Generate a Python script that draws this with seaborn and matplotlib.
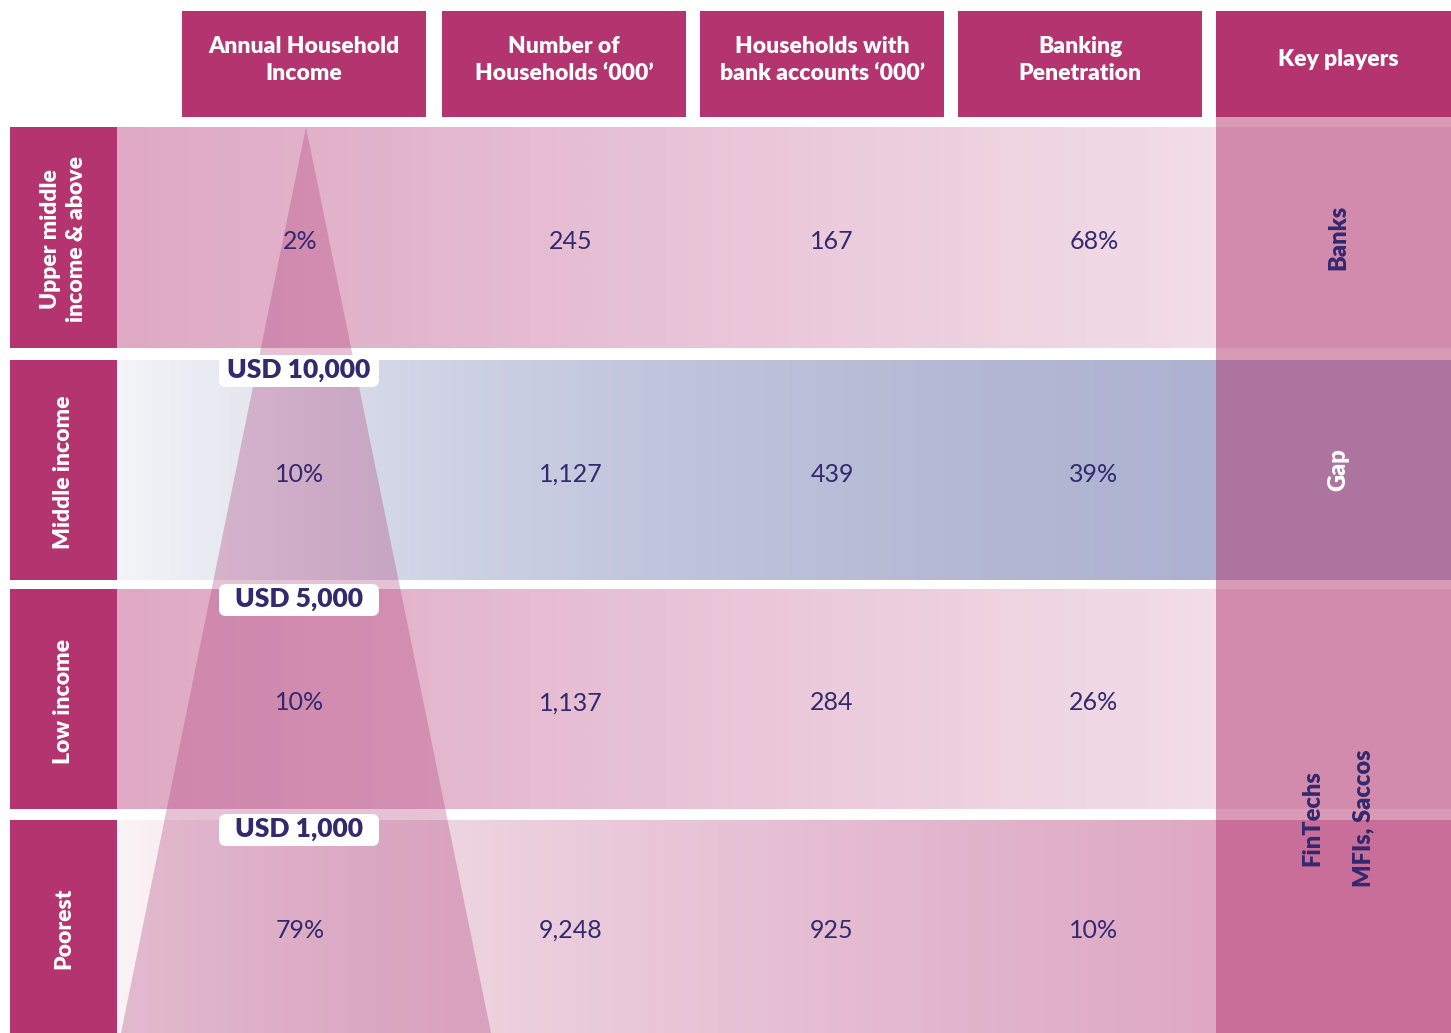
import numpy as np
import matplotlib.pyplot as plt
from matplotlib.patches import Rectangle, Polygon, FancyBboxPatch
import seaborn as sns

# Table content
headers = ["Annual Household\nIncome", "Number of\nHouseholds \u2018000\u2019",
           "Households with\nbank accounts \u2018000\u2019", "Banking\nPenetration", "Key players"]
segments = ["Upper middle\nincome & above", "Middle income", "Low income", "Poorest"]
income_share = [2, 10, 10, 79]          # % of households
households = [245, 1127, 1137, 9248]    # '000
banked = [167, 439, 284, 925]           # '000
penetration = [68, 39, 26, 10]          # %
thresholds = ["USD 10,000", "USD 5,000", "USD 1,000"]
key_players = ["Banks", "Gap", "FinTechs\nMFIs, Saccos"]

# Layout in pixel units (figure is 1451 x 1033)
W, H = 1451, 1033
row_top = [127, 360, 589, 820]
row_bot = [348, 580, 809, 1033]
head_x = [(182, 426), (442, 686), (700, 944), (958, 1202), (1216, 1460)]
head_y = (11, 117)
label_x = (10, 117)
band_x = (117, 1216)
key_x = (1216, 1460)
col_cx = [300, 571, 832, 1094]

MAGENTA = "#b3346e"
NAVY = "#33296f"
BOLD = "heavy"

band_colors = [
    ["#dfa9c5", "#e3b5cd", "#e8c3d7", "#edd0df", "#f2dde8"],
    ["#f4f4f8", "#d3d6e7", "#c0c4dc", "#b5b9d5", "#adb2d0"],
    ["#dfa9c5", "#e3b5cd", "#e8c3d7", "#edd0df", "#f2dde8"],
    ["#faf3f6", "#efd7e3", "#e8c6d8", "#e3b6ce", "#dea8c4"],
]
key_colors = ["#d38bad", "#ae74a0", "#d38bad", "#c86e99"]

sns.set_theme(style="white")
plt.rcParams["font.family"] = ["Lato", "DejaVu Sans"]

fig = plt.figure(figsize=(14.51, 10.33), dpi=100)
ax = fig.add_axes([0, 0, 1, 1])

# header boxes
for (x0, x1), text in zip(head_x, headers):
    ax.add_patch(Rectangle((x0, head_y[0]), x1 - x0, head_y[1] - head_y[0],
                           color=MAGENTA, lw=0, zorder=2))
    ax.text((x0 + x1) / 2, (head_y[0] + head_y[1]) / 2 - 4, text, color="white",
            fontsize=16.5, fontweight=BOLD, ha="center", va="center",
            linespacing=1.3, zorder=3)

# key players column background
ax.add_patch(Rectangle((key_x[0], head_y[1]), key_x[1] - key_x[0], H - head_y[1],
                       color="#d89ab5", lw=0, zorder=1))

grad = np.linspace(0, 1, 256)[None, :]
for i, name in enumerate(segments):
    yt, yb = row_top[i], row_bot[i]
    cmap = sns.blend_palette(band_colors[i], as_cmap=True)
    ax.imshow(grad, cmap=cmap, extent=(band_x[0], band_x[1], yb, yt),
              aspect="auto", interpolation="bicubic", zorder=1)
    ax.add_patch(Rectangle((label_x[0], yt), label_x[1] - label_x[0], yb - yt,
                           color=MAGENTA, lw=0, zorder=2))
    ax.add_patch(Rectangle((key_x[0], yt), key_x[1] - key_x[0], yb - yt,
                           color=key_colors[i], lw=0, zorder=2))
    ax.text((label_x[0] + label_x[1]) / 2, (yt + yb) / 2 + 2, name, rotation=90,
            color="white", fontsize=16.5, fontweight=BOLD, ha="center",
            va="center", linespacing=1.3, zorder=4)
    yc = (yt + yb) / 2 + 4
    cells = [f"{income_share[i]}%", f"{households[i]:,}", f"{banked[i]:,}",
             f"{penetration[i]}%"]
    for x, s in zip(col_cx, cells):
        ax.text(x, yc, s, color=NAVY, fontsize=18, ha="center", va="center", zorder=5)

# income pyramid
ax.add_patch(Polygon([(306, row_top[0]), (121, H), (491, H)], closed=True,
                     color="#ac3773", alpha=0.3, lw=0, zorder=3))

# income threshold tags
tag_y = [370, 599, 829]
for y, s in zip(tag_y, thresholds):
    ax.add_patch(FancyBboxPatch((223, y - 11), 152, 24,
                                boxstyle="round,pad=4,rounding_size=7",
                                fc="white", ec="none", zorder=6))
    ax.text(299, y, s, color=NAVY, fontsize=19, fontweight=BOLD,
            ha="center", va="center", zorder=7)

# key players labels
kx = 1338
ax.text(kx, (row_top[0] + row_bot[0]) / 2, key_players[0], rotation=90, color=NAVY,
        fontsize=17, fontweight=BOLD, ha="center", va="center", zorder=5)
ax.text(kx, (row_top[1] + row_bot[1]) / 2, key_players[1], rotation=90, color="white",
        fontsize=17, fontweight=BOLD, ha="center", va="center", zorder=5)
ax.text(kx, 818, key_players[2], rotation=90, color=NAVY, fontsize=17,
        fontweight=BOLD, ha="center", va="center", linespacing=2.6, zorder=5)

ax.set_xlim(0, W)
ax.set_ylim(H, 0)
ax.axis("off")

fig.savefig("out.png", dpi=100)
